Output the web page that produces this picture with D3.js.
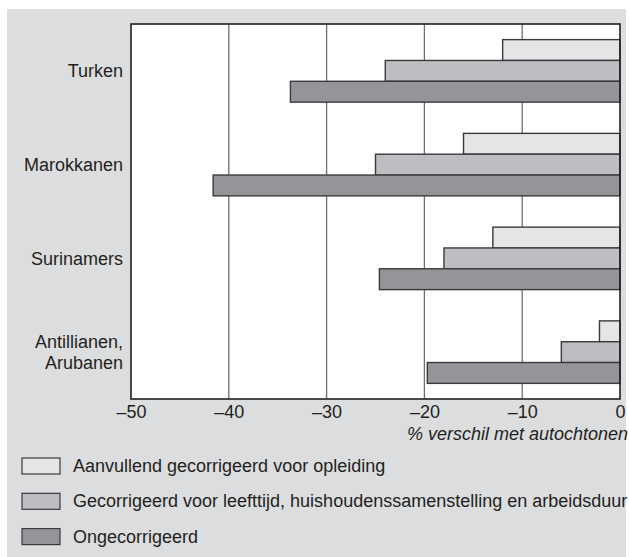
<!DOCTYPE html>
<html>
<head>
<meta charset="utf-8">
<script src="https://cdn.jsdelivr.net/npm/d3@7"></script>
<style>
  body { margin: 0; background: #fff; }
  text { font-family: "Liberation Sans", Arial, sans-serif; fill: #231f20; }
</style>
</head>
<body>
<div id="chart"></div>
<script>
// data
let groups = ["Turken", "Marokkanen", "Surinamers", "Antillianen, Arubanen"];
let opleiding = [-12, -16, -13, -2.1];
let leeftijd = [-24, -25, -18, -6];
let ongecorrigeerd = [-33.7, -41.6, -24.6, -19.7];
let seriesNames = [
  "Aanvullend gecorrigeerd voor opleiding",
  "Gecorrigeerd voor leefttijd, huishoudenssamenstelling en arbeidsduur",
  "Ongecorrigeerd"
];
let xTicks = [-50, -40, -30, -20, -10, 0];

let seriesValues = [opleiding, leeftijd, ongecorrigeerd];
let colors = ["#e4e5e7", "#bdbec1", "#949599"];

let W = 629, H = 557;
let plot = {left: 131, right: 620, top: 24, bottom: 399};

let svg = d3.select("#chart").append("svg")
  .attr("width", W)
  .attr("height", H);

// grey page background
svg.append("rect")
  .attr("x", 7).attr("y", 9)
  .attr("width", 619).attr("height", H - 9)
  .attr("fill", "#dcdddf");

// scales
let x = d3.scaleLinear().domain([-50, 0]).range([plot.left, plot.right]);
let y = d3.scaleBand().domain(groups).range([plot.top, plot.bottom])
  .paddingInner(1 / 3).paddingOuter(1 / 6);
let ySub = d3.scaleBand().domain(d3.range(3)).range([0, y.bandwidth()]);

svg.append("rect")
  .attr("x", plot.left).attr("y", plot.top)
  .attr("width", plot.right - plot.left).attr("height", plot.bottom - plot.top)
  .attr("fill", "#fff");

// grid lines
svg.append("g").selectAll("line")
  .data(xTicks.slice(1, -1))
  .join("line")
  .attr("x1", d => x(d)).attr("x2", d => x(d))
  .attr("y1", plot.top).attr("y2", plot.bottom)
  .attr("stroke", "#6d6e71")
  .attr("stroke-width", 1.3);

// bars
let rows = [];
groups.forEach((g, i) => {
  seriesValues.forEach((vals, s) => rows.push({group: g, s: s, v: vals[i]}));
});

svg.append("g").selectAll("rect")
  .data(rows)
  .join("rect")
  .attr("x", d => x(d.v))
  .attr("y", d => y(d.group) + ySub(d.s))
  .attr("width", d => x(0) - x(d.v))
  .attr("height", ySub.bandwidth())
  .attr("fill", d => colors[d.s])
  .attr("stroke", "#3a3a3c")
  .attr("stroke-width", 1.4);

// frame
svg.append("rect")
  .attr("x", plot.left).attr("y", plot.top)
  .attr("width", plot.right - plot.left).attr("height", plot.bottom - plot.top)
  .attr("fill", "none")
  .attr("stroke", "#231f20")
  .attr("stroke-width", 1.6);

// x axis labels
let xAxis = svg.append("g")
  .attr("transform", "translate(0," + plot.bottom + ")")
  .call(d3.axisBottom(x).tickValues(xTicks).tickSize(0)
    .tickFormat(d => d < 0 ? "\u2013" + Math.abs(d) : d));
xAxis.select(".domain").remove();
xAxis.selectAll("text")
  .attr("y", 19).attr("dy", 0)
  .attr("font-size", 18)
  .attr("font-family", "Liberation Sans, Arial, sans-serif")
  .attr("fill", "#231f20");

svg.append("text")
  .attr("x", 628).attr("y", 440)
  .attr("text-anchor", "end")
  .attr("font-size", 18)
  .attr("font-style", "italic")
  .text("% verschil met autochtonen");

// category labels
let catLabels = svg.append("g").selectAll("text")
  .data(groups)
  .join("text")
  .attr("x", 123)
  .attr("y", d => y(d) + y.bandwidth() / 2)
  .attr("text-anchor", "end")
  .attr("font-size", 18);

catLabels.each(function (d) {
  let parts = d.includes(",") ? [d.split(",")[0] + ",", d.split(",")[1].trim()] : [d];
  let t = d3.select(this);
  parts.forEach((p, i) => {
    t.append("tspan")
      .attr("x", 123)
      .attr("dy", i === 0 ? (0.35 - (parts.length - 1) * 0.6) + "em" : "1.2em")
      .text(p);
  });
});

// legend
let legend = svg.append("g").selectAll("g")
  .data(seriesNames)
  .join("g")
  .attr("transform", (d, i) => "translate(22," + (458 + i * 35.3) + ")");

legend.append("rect")
  .attr("width", 38).attr("height", 16)
  .attr("fill", (d, i) => colors[i])
  .attr("stroke", "#3a3a3c")
  .attr("stroke-width", 1.2);

legend.append("text")
  .attr("x", 51).attr("y", 14)
  .attr("font-size", 18)
  .text(d => d);
</script>
</body>
</html>
